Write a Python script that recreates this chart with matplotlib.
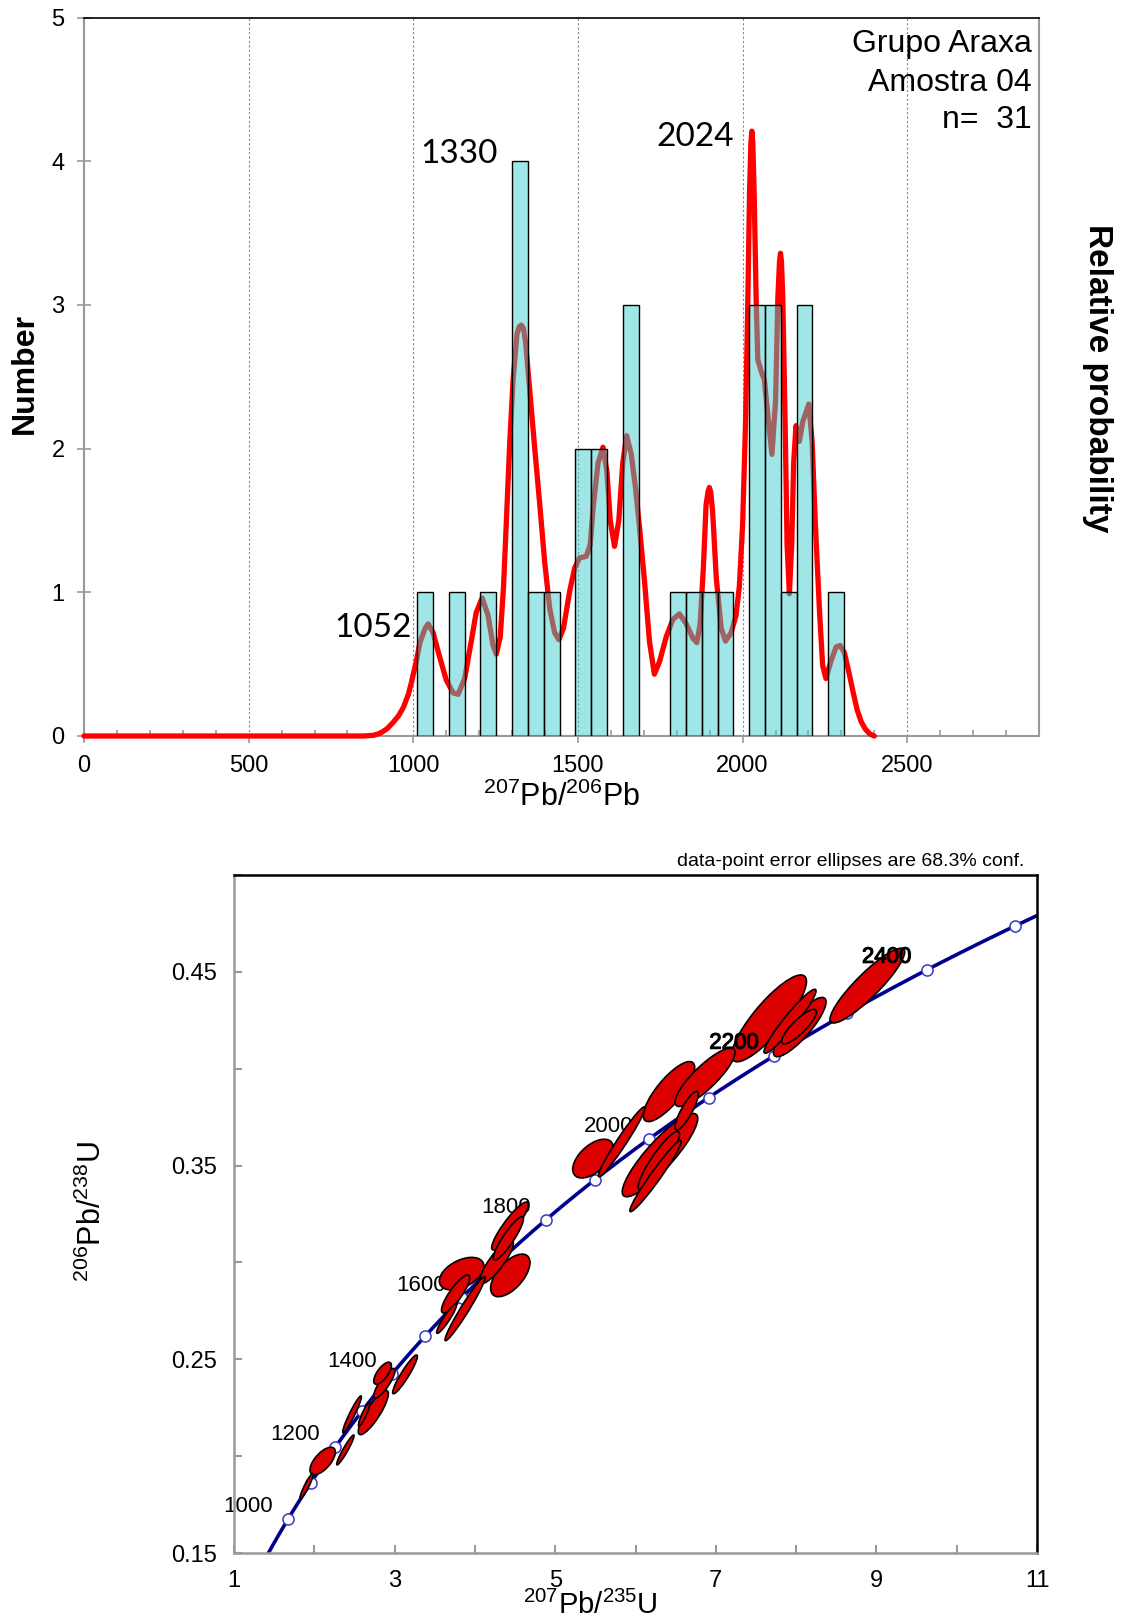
import numpy as np
import matplotlib
matplotlib.use('Agg')
from matplotlib import pyplot as plt
from matplotlib import patheffects
from matplotlib.patches import Ellipse
from matplotlib.ticker import MultipleLocator

plt.rcParams['font.family'] = ['Liberation Sans', 'DejaVu Sans']
plt.rcParams['mathtext.fontset'] = 'custom'
plt.rcParams['mathtext.rm'] = 'Liberation Sans'
plt.rcParams['mathtext.default'] = 'regular'

W, H = 1123, 1623

# --- 207Pb/206Pb age histogram (Ma)
bin_start = 1012
bin_width = 48
bin_counts = [1, 0, 1, 0, 1, 0, 4, 1, 1, 0, 2, 2, 0, 3, 0, 0, 1, 1, 1, 1, 0, 3, 3, 1, 3, 0, 1]

# relative probability curve (age Ma, height in count units)
pdp_age = [0, 850, 880, 900, 920, 937, 955, 970, 985, 994, 1003, 1010, 1020, 1036, 1045,
           1060, 1080, 1100, 1121, 1136,
           1156, 1176, 1191, 1209, 1227, 1242, 1252, 1264, 1274, 1282, 1293, 1303, 1315,
           1322, 1328, 1334, 1341, 1353, 1368, 1384, 1399, 1414, 1429, 1442, 1456, 1475,
           1490, 1505, 1525, 1537, 1547, 1561, 1576, 1588, 1598, 1611, 1624, 1636, 1648,
           1662, 1675, 1687, 1702, 1717, 1732, 1748, 1768, 1788, 1808, 1829, 1849, 1861,
           1871, 1881, 1889, 1895, 1899, 1903, 1909, 1920, 1935, 1948, 1965, 1980, 1990,
           2000, 2009, 2016, 2021, 2025, 2028, 2031, 2035, 2041, 2046, 2056, 2066, 2076,
           2089, 2100, 2107, 2112, 2115, 2118, 2122, 2129, 2135, 2142, 2149, 2155, 2162,
           2172, 2183, 2201, 2211, 2221, 2233, 2243, 2253, 2268, 2284, 2296, 2309, 2324,
           2336, 2348, 2360, 2372, 2386, 2400]
pdp_val = [0.0, 0.0, 0.005, 0.02, 0.05, 0.09, 0.14, 0.20, 0.29, 0.37, 0.46, 0.53, 0.65, 0.75, 0.78,
           0.72, 0.55, 0.39, 0.30, 0.29,
           0.40, 0.66, 0.86, 0.96, 0.84, 0.63, 0.57, 0.69, 1.04, 1.47, 2.05, 2.48, 2.80,
           2.85, 2.86, 2.84, 2.74, 2.42, 2.02, 1.61, 1.21, 0.89, 0.72, 0.67, 0.75, 1.01,
           1.17, 1.24, 1.25, 1.33, 1.61, 1.90, 2.01, 1.84, 1.50, 1.32, 1.50, 1.90, 2.09,
           1.96, 1.72, 1.45, 1.08, 0.66, 0.43, 0.52, 0.69, 0.81, 0.85, 0.78, 0.68, 0.65,
           0.78, 1.18, 1.61, 1.70, 1.73, 1.70, 1.56, 1.10, 0.75, 0.66, 0.72, 0.84, 1.04,
           1.47, 2.19, 3.05, 3.78, 4.12, 4.21, 4.12, 3.78, 3.05, 2.62, 2.54, 2.48, 2.25,
           1.96, 2.33, 3.05, 3.30, 3.36, 3.30, 3.05, 2.19, 1.33, 0.99, 1.33, 1.90, 2.16,
           2.05, 2.19, 2.31, 2.05, 1.47, 0.89, 0.49, 0.40, 0.52, 0.62, 0.63, 0.58, 0.43,
           0.30, 0.18, 0.10, 0.05, 0.015, 0.0]

peak_labels = ['1052', '1330', '2024']
sample_lines = ['Grupo Araxa', 'Amostra 04', 'n=  31']

# --- concordia data-point ellipses: centre, half-extent in x and y, correlation
ell_x = [1.905, 2.104, 2.387, 2.470, 2.735, 2.620, 2.872, 2.850, 3.130,
         3.649, 3.877, 3.760, 3.835, 4.437, 4.417, 4.271, 4.441,
         5.471, 5.828, 6.305, 6.290, 6.250, 6.637, 6.417, 6.866, 7.663, 7.924, 8.045, 8.036, 8.887]
ell_y = [0.1846, 0.1975, 0.2032, 0.2216, 0.2225, 0.2215, 0.2376, 0.2428, 0.2422,
         0.2711, 0.2761, 0.2837, 0.2942, 0.3188, 0.3124, 0.3004, 0.2933,
         0.3536, 0.3623, 0.3554, 0.3525, 0.3446, 0.3783, 0.3882, 0.3956, 0.4260, 0.4245, 0.4215, 0.4217, 0.4429]
ell_dx = [0.083, 0.158, 0.108, 0.116, 0.187, 0.070, 0.133, 0.110, 0.154,
          0.125, 0.249, 0.176, 0.278, 0.228, 0.187, 0.208, 0.245,
          0.253, 0.290, 0.470, 0.257, 0.320, 0.145, 0.320, 0.374, 0.466, 0.324, 0.328, 0.216, 0.465]
ell_dy = [0.0065, 0.0071, 0.0077, 0.0095, 0.0114, 0.0060, 0.0077, 0.0057, 0.0100,
          0.0077, 0.0165, 0.0098, 0.0084, 0.0124, 0.0112, 0.0112, 0.0110,
          0.0100, 0.0180, 0.0215, 0.0151, 0.0184, 0.0100, 0.0155, 0.0151, 0.0224, 0.0165, 0.0153, 0.0089, 0.0193]
ell_rho = [0.93, 0.65, 0.95, 0.95, 0.85, 0.90, 0.85, 0.70, 0.93,
           0.93, 0.97, 0.85, 0.45, 0.90, 0.90, 0.85, 0.60,
           0.55, 0.97, 0.88, 0.90, 0.97, 0.85, 0.80, 0.85, 0.85, 0.95, 0.85, 0.85, 0.90]

conc_marker_ages = list(range(1000, 2600, 100))
conc_label_ages = list(range(1000, 2500, 200))

LAMBDA_238 = 1.55125e-4  # 1/Myr
LAMBDA_235 = 9.8485e-4


def fx(px):
    return px / W


def fy(py):
    return 1 - py / H


def concordia(t):
    t = np.asarray(t, dtype=float)
    return np.exp(LAMBDA_235 * t) - 1, np.exp(LAMBDA_238 * t) - 1


fig = plt.figure(figsize=(W / 100, H / 100), dpi=100)

# ---------------- histogram + probability curve
ax1 = fig.add_axes([fx(84), fy(736), fx(1039) - fx(84), fy(17.6) - fy(736)])
ax1.set_xlim(0, 2900)
ax1.set_ylim(0, 5)

counts = np.array(bin_counts)
lefts = bin_start + bin_width * np.arange(len(counts))
keep = counts > 0
ax1.plot(pdp_age, pdp_val, color='red', lw=3.8, zorder=2.6, clip_on=False,
         solid_joinstyle='round', solid_capstyle='round')
ax1.bar(lefts[keep], counts[keep], width=bin_width, align='edge',
        color=(0.24, 0.80, 0.80, 0.49), edgecolor='black', linewidth=1.0, zorder=3)

ax1.set_axisbelow(True)
ax1.xaxis.set_major_locator(MultipleLocator(500))
ax1.xaxis.set_minor_locator(MultipleLocator(100))
ax1.set_xticks(range(0, 3000, 500))
ax1.set_yticks(range(0, 6))
ax1.xaxis.grid(True, which='major', linestyle=(0, (2, 2)), color='#888888', lw=0.8)
ax1.tick_params(axis='x', which='major', direction='out', length=5, width=1.2,
                color='#999999', labelsize=17, pad=9)
ax1.tick_params(axis='x', which='minor', direction='in', length=4, width=1.2, color='#999999')
ax1.tick_params(axis='y', which='major', direction='inout', length=10, width=1.2,
                color='#999999', labelsize=17, pad=9)
for side in ['left', 'bottom', 'right']:
    ax1.spines[side].set_color('#999999')
    ax1.spines[side].set_linewidth(1.5)
ax1.spines['top'].set_color('black')
ax1.spines['top'].set_linewidth(1.2)

for lbl, (px, py) in zip(peak_labels, [(878, 0.75), (1139, 4.05), (1855, 4.17)]):
    ax1.text(px, py, lbl, fontfamily='Lato', fontsize=24, ha='center', va='center', zorder=5)

for line, yy in zip(sample_lines, [0.963, 0.909, 0.858]):
    ax1.text(0.9927, yy, line, transform=ax1.transAxes, ha='right', va='center', fontsize=23)

fig.text(fx(25), fy(374), 'Number', rotation=90, ha='center', va='center',
         fontsize=23, fontweight='bold')
fig.text(fx(1097), fy(378), 'Relative probability', rotation=270, ha='center', va='center',
         fontsize=24, fontweight='bold')
fig.text(fx(562), fy(806), r'$^{207}$Pb/$^{206}$Pb', ha='center', va='baseline', fontsize=22)

# ---------------- concordia diagram
ax2 = fig.add_axes([fx(234), fy(1553), fx(1037) - fx(234), fy(875) - fy(1553)])
ax2.set_xlim(1, 11)
ax2.set_ylim(0.15, 0.5)

cx, cy = concordia(np.linspace(800, 2700, 600))
ax2.plot(cx, cy, color='#00008f', lw=2.6, zorder=2)
mx, my = concordia(conc_marker_ages)
ax2.plot(mx, my, linestyle='none', marker='o', mfc='white', mec='#3a3ac0', ms=8, mew=1.1, zorder=2.2)
lx, ly = concordia(conc_label_ages)
for age, x0, y0 in zip(conc_label_ages, lx, ly):
    front = age >= 2200
    t = ax2.annotate(str(age), (x0, y0), xytext=(-29, 9), textcoords='offset points',
                     ha='center', va='center', fontsize=16, zorder=4 if front else 2.5)
    if front:
        t.set_path_effects([patheffects.withStroke(linewidth=0.8, foreground='black')])

ex, ey = np.array(ell_x), np.array(ell_y)
edx, edy, er = np.array(ell_dx), np.array(ell_dy), np.array(ell_rho)
area = edx * edy * np.sqrt(1 - er ** 2)
for i in np.argsort(-area):
    cov = np.array([[edx[i] ** 2, er[i] * edx[i] * edy[i]],
                    [er[i] * edx[i] * edy[i], edy[i] ** 2]])
    vals, vecs = np.linalg.eigh(cov)
    ang = np.degrees(np.arctan2(vecs[1, 1], vecs[0, 1]))
    ax2.add_patch(Ellipse((ex[i], ey[i]), 2 * np.sqrt(vals[1]), 2 * np.sqrt(vals[0]), angle=ang,
                          facecolor='#dd0000', edgecolor='black', lw=1.2, zorder=3))

ax2.set_xticks(range(1, 12))
ax2.set_xticklabels([str(v) if v % 2 else '' for v in range(1, 12)])
yt = np.round(np.arange(0.15, 0.501, 0.05), 2)
ax2.set_yticks(yt)
ax2.set_yticklabels(['%.2f' % v if i % 2 == 0 else '' for i, v in enumerate(yt)])
ax2.tick_params(direction='in', length=6, width=1.5, color='#999999', labelsize=17, pad=12)
for side in ['left', 'bottom']:
    ax2.spines[side].set_color('#999999')
    ax2.spines[side].set_linewidth(1.8)
for side in ['top', 'right']:
    ax2.spines[side].set_color('black')
    ax2.spines[side].set_linewidth(1.8)

fig.text(fx(851), fy(861), 'data-point error ellipses are 68.3% conf.', ha='center', va='center',
         fontsize=14)
fig.text(fx(590), fy(1614), r'$^{207}$Pb/$^{235}$U', ha='center', va='baseline', fontsize=21)
fig.text(fx(92), fy(1211), r'$^{206}$Pb/$^{238}$U', rotation=90, ha='center', va='center', fontsize=22)

fig.savefig('out.png', dpi=100)
